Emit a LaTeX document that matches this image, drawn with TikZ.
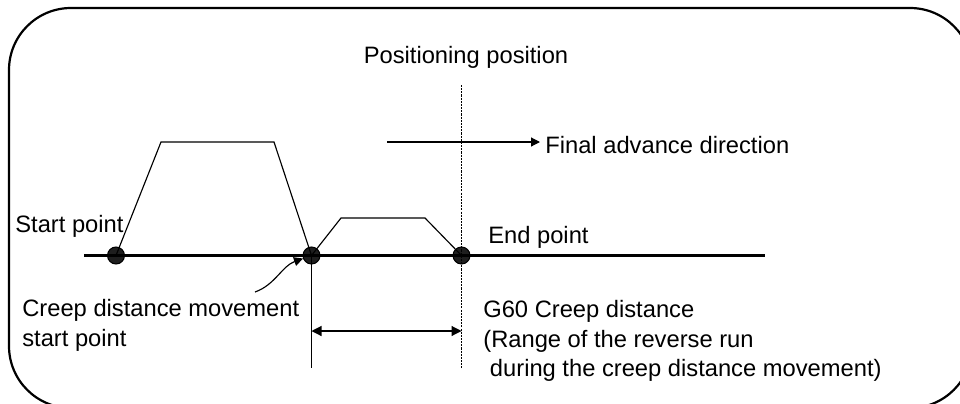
\documentclass[tikz,border=0pt]{standalone}
\usepackage{fontspec}
\setmainfont{Liberation Sans}
\usepackage{tikz}
\usetikzlibrary{arrows.meta}
\definecolor{dotfill}{HTML}{1E1E1E}
\tikzset{
  lbl/.style={inner sep=0pt, font=\fontsize{13.5}{16.8}\selectfont, align=left},
  pt/.style={circle, draw=black, fill=dotfill, line width=0.6pt, minimum size=0.34cm, inner sep=0pt},
  axisline/.style={line width=1.25pt},
  prof/.style={line width=0.65pt},
  arr/.style={-{Triangle[length=1.8mm,width=1.8mm]}, line width=0.65pt},
  dimarr/.style={{Triangle[length=2mm,width=2mm]}-{Triangle[length=2mm,width=2mm]}, line width=0.65pt},
  posline/.style={line width=0.65pt, dash pattern=on 1.2pt off 0.6pt},
}

\begin{document}
\begin{tikzpicture}[x=0.02cm, y=-0.02cm]
  \useasboundingbox (0,0) rectangle (960,403);
  \begin{scope}
    \clip (0,0) rectangle (960,403);
    \draw[line width=1.25pt, rounded corners=1.24cm] (9,8) rectangle (972,408);
  \end{scope}
  % points on the axis
  \node[pt] (st) at (116,255.5) {};
  \node[pt] (cr) at (311.5,255.5) {};
  \node[pt] (en) at (461.5,255.5) {};
  \coordinate (axl) at (84,255.5);
  \coordinate (axr) at (765,255.5);
  \coordinate (pptop) at (461.5,85);
  \coordinate (ppbot) at (461.5,368);
  \coordinate (crbot) at (311.5,368);
  \coordinate (dl) at (311.5,331);
  \coordinate (dr) at (461.5,331);
  \coordinate (fa) at (387,142);
  \coordinate (fb) at (540,142);
  \coordinate (cm) at (255,292);
  % labels
  \node[lbl, anchor=base] (pos) at (466,63) {Positioning position};
  \node[lbl, anchor=base west] (final) at (545,153) {Final advance direction};
  \node[lbl, anchor=base west] (stl) at (15,232) {Start point};
  \node[lbl, anchor=base west] (enl) at (488,243) {End point};
  \node[lbl, anchor=north west] (crl) at (22,299) {Creep distance movement\\start point};
  \node[lbl, anchor=north west] (g60) at (483,300) {G60 Creep distance\\(Range of the reverse run\\\hspace*{.28em}during the creep distance movement)};
  % axis and speed profiles
  \draw[axisline] (axl) -- (axr);
  \draw[prof] (st.center) -- (161,142) -- (274,142) -- (cr.center);
  \draw[prof] (cr.center) -- (341,218) -- (425,218) -- (en.center);
  \draw[posline] (pptop) -- (ppbot);
  \draw[prof] (cr.center) -- (crbot);
  \draw[dimarr] (dl) -- (dr);
  \draw[arr] (fa) -- (fb);
  \draw[arr] (cm) .. controls (275,285) and (282,266) .. (cr);
\end{tikzpicture}
\end{document}
